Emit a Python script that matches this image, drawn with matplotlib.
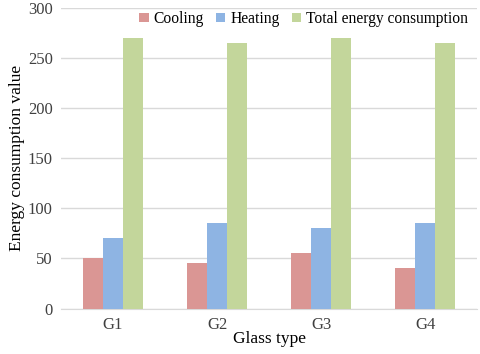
import numpy as np
import matplotlib.pyplot as plt

glass_types = ['G1', 'G2', 'G3', 'G4']
cooling = [50, 45, 55, 40]
heating = [70, 85, 80, 85]
total = [270, 265, 270, 265]

series_names = ['Cooling', 'Heating', 'Total energy consumption']
colors = ['#da9694', '#8eb4e3', '#c3d69b']

plt.rcParams['font.family'] = ['Liberation Serif', 'DejaVu Serif']

fig = plt.figure(figsize=(4.8, 3.54), dpi=100)
ax = fig.add_axes([0.127, 0.1285, 0.867, 0.85])

x = np.arange(len(glass_types))
w = 0.192
for i, (vals, name, c) in enumerate(zip([cooling, heating, total], series_names, colors)):
    ax.bar(x + (i - 1) * w, vals, width=w, color=c, label=name, zorder=3)

ax.set_xlim(-0.5, len(glass_types) - 0.5)
ax.set_ylim(0, 300)
ax.set_yticks(range(0, 301, 50))
ax.set_xticks(x)
ax.set_xticklabels(glass_types)
ax.grid(axis='y', color='#d9d9d9', linewidth=1, zorder=0)
for s in ['top', 'right', 'left']:
    ax.spines[s].set_visible(False)
ax.spines['bottom'].set_color('#d9d9d9')
ax.tick_params(axis='both', length=0, labelsize=12, colors='#404040', pad=6)
ax.set_xlabel('Glass type', fontsize=12.5, labelpad=-1)
ax.set_ylabel('Energy consumption value', fontsize=12.5, labelpad=2)

ax.legend(loc='upper right', ncol=3, frameon=False, fontsize=11.2,
          handlelength=0.6, handleheight=0.6, handletextpad=0.3,
          columnspacing=0.8, bbox_to_anchor=(1.0, 1.02), borderaxespad=0.2)

fig.savefig('out.png', dpi=100)
